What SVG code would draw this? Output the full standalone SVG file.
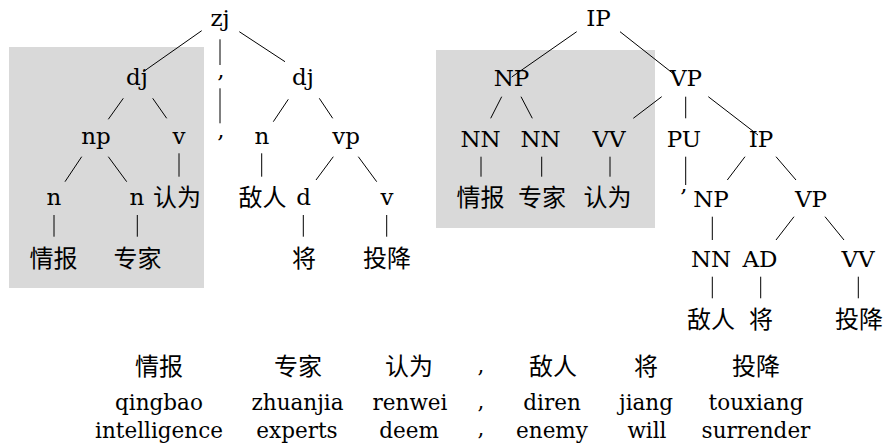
<svg xmlns="http://www.w3.org/2000/svg" width="888" height="448" viewBox="0 0 888 448">
<style>
.t{font-family:"DejaVu Serif",serif;font-size:23px;text-anchor:middle;fill:#000}
.c{font-family:"Noto Sans CJK SC","Noto Sans CJK TC",sans-serif;font-size:24px;text-anchor:middle;fill:#000}
.b{font-family:"DejaVu Serif",serif;font-size:21.5px;text-anchor:middle;fill:#000}
.bg{fill:#d9d9d9}
#connectors line{stroke:#000;stroke-width:1}
</style>
<rect class="bg" x="9" y="47" width="195" height="241"/>
<rect class="bg" x="436" y="50" width="219" height="178"/>
<g id="connectors">
<line x1="201.7" y1="30.7" x2="143.3" y2="71.7"/>
<line x1="220" y1="39.3" x2="220" y2="65"/>
<line x1="239.3" y1="31.7" x2="285" y2="61.7"/>
<line x1="123.3" y1="98.3" x2="108.3" y2="119.3"/>
<line x1="152.7" y1="98.3" x2="166.7" y2="118.3"/>
<line x1="220" y1="88.3" x2="220" y2="123.3"/>
<line x1="288.3" y1="99.3" x2="273.3" y2="121.7"/>
<line x1="319.3" y1="98.3" x2="332.7" y2="118.3"/>
<line x1="81.7" y1="156.7" x2="65" y2="181.7"/>
<line x1="108.3" y1="156.7" x2="126.7" y2="181.7"/>
<line x1="179" y1="153.3" x2="179" y2="176.7"/>
<line x1="261.7" y1="153.3" x2="261.7" y2="176.7"/>
<line x1="333.3" y1="156.7" x2="316" y2="180"/>
<line x1="358.3" y1="156.7" x2="376.7" y2="181.7"/>
<line x1="54" y1="215" x2="54" y2="236.7"/>
<line x1="137.3" y1="215" x2="137.3" y2="236.7"/>
<line x1="303.3" y1="215" x2="303.3" y2="236.7"/>
<line x1="386.7" y1="215" x2="386.7" y2="236.7"/>
<line x1="576.7" y1="31.7" x2="511.7" y2="77"/>
<line x1="620" y1="31.7" x2="675" y2="75"/>
<line x1="501.7" y1="96.7" x2="490.7" y2="118.3"/>
<line x1="521" y1="96.7" x2="532.3" y2="118.3"/>
<line x1="661.7" y1="96.7" x2="633.3" y2="118.3"/>
<line x1="685.7" y1="96.7" x2="685.7" y2="118.3"/>
<line x1="708.3" y1="96.7" x2="758" y2="135"/>
<line x1="481" y1="156.7" x2="481" y2="176.7"/>
<line x1="541.7" y1="156.7" x2="541.7" y2="176.7"/>
<line x1="610" y1="156.7" x2="610" y2="176.7"/>
<line x1="685.7" y1="156.7" x2="685.7" y2="185"/>
<line x1="745" y1="156.7" x2="727.3" y2="180"/>
<line x1="776" y1="156.7" x2="796" y2="180"/>
<line x1="712.3" y1="216.7" x2="712.3" y2="240"/>
<line x1="794" y1="216.7" x2="776" y2="240"/>
<line x1="825" y1="216.7" x2="844" y2="240"/>
<line x1="712.3" y1="276.7" x2="712.3" y2="298.3"/>
<line x1="760.7" y1="276.7" x2="760.7" y2="298.3"/>
<line x1="858.3" y1="276.7" x2="858.3" y2="298.3"/>
</g>
<g id="left-tree">
<g id="L-zj"><text class="t" x="220" y="26">zj</text></g>
<g id="L-dj1"><text class="t" x="137" y="85">dj</text></g>
<g id="L-pu1"><text class="t" x="221" y="78">,</text></g>
<g id="L-dj2"><text class="t" x="303" y="85">dj</text></g>
<g id="L-np"><text class="t" x="96" y="144">np</text></g>
<g id="L-v1"><text class="t" x="179" y="144">v</text></g>
<g id="L-pu2"><text class="t" x="221" y="138">,</text></g>
<g id="L-n3"><text class="t" x="262" y="144">n</text></g>
<g id="L-vp"><text class="t" x="346" y="144">vp</text></g>
<g id="L-n1"><text class="t" x="54" y="205">n</text></g>
<g id="L-n2"><text class="t" x="137" y="205">n</text></g>
<g id="L-w3"><text class="c" x="177" y="206">认为</text></g>
<g id="L-w4"><text class="c" x="262.5" y="206">敌人</text></g>
<g id="L-d"><text class="t" x="303.5" y="205">d</text></g>
<g id="L-v2"><text class="t" x="387" y="205">v</text></g>
<g id="L-w1"><text class="c" x="53.5" y="267">情报</text></g>
<g id="L-w2"><text class="c" x="137.5" y="267">专家</text></g>
<g id="L-w5"><text class="c" x="304" y="267">将</text></g>
<g id="L-w6"><text class="c" x="387" y="267">投降</text></g>
</g>
<g id="right-tree">
<g id="R-IP"><text class="t" x="598.5" y="26">IP</text></g>
<g id="R-NP"><text class="t" x="511.5" y="86">NP</text></g>
<g id="R-VP"><text class="t" x="686" y="86">VP</text></g>
<g id="R-NN1"><text class="t" x="480.5" y="147">NN</text></g>
<g id="R-NN2"><text class="t" x="540.5" y="147">NN</text></g>
<g id="R-VV1"><text class="t" x="609" y="147">VV</text></g>
<g id="R-PU"><text class="t" x="684" y="147">PU</text></g>
<g id="R-IP2"><text class="t" x="761" y="147">IP</text></g>
<g id="R-w1"><text class="c" x="480.5" y="206">情报</text></g>
<g id="R-w2"><text class="c" x="542" y="206">专家</text></g>
<g id="R-w3"><text class="c" x="607.5" y="206">认为</text></g>
<g id="R-comma"><text class="t" x="684" y="192">,</text></g>
<g id="R-NP2"><text class="t" x="711" y="207">NP</text></g>
<g id="R-VP2"><text class="t" x="811" y="207">VP</text></g>
<g id="R-NN3"><text class="t" x="711" y="267">NN</text></g>
<g id="R-AD"><text class="t" x="760" y="267">AD</text></g>
<g id="R-VV2"><text class="t" x="858" y="267">VV</text></g>
<g id="R-w4"><text class="c" x="711" y="328">敌人</text></g>
<g id="R-w5"><text class="c" x="761" y="328">将</text></g>
<g id="R-w6"><text class="c" x="859" y="328">投降</text></g>
</g>
<g id="gloss">
<text class="c" x="159" y="375">情报</text>
<text class="c" x="298" y="375">专家</text>
<text class="c" x="409" y="375">认为</text>
<text class="b" x="481" y="373">,</text>
<text class="c" x="553" y="375">敌人</text>
<text class="c" x="646" y="375">将</text>
<text class="c" x="756" y="375">投降</text>
<text class="b" x="159" y="410">qingbao</text>
<text class="b" x="297.5" y="410">zhuanjia</text>
<text class="b" x="410" y="410">renwei</text>
<text class="b" x="481" y="409">,</text>
<text class="b" x="552" y="410">diren</text>
<text class="b" x="646" y="410">jiang</text>
<text class="b" x="756" y="410">touxiang</text>
<text class="b" x="159" y="438">intelligence</text>
<text class="b" x="297" y="438">experts</text>
<text class="b" x="409" y="438">deem</text>
<text class="b" x="481" y="436">,</text>
<text class="b" x="552" y="438">enemy</text>
<text class="b" x="647" y="438">will</text>
<text class="b" x="756" y="438">surrender</text>
</g>
</svg>
